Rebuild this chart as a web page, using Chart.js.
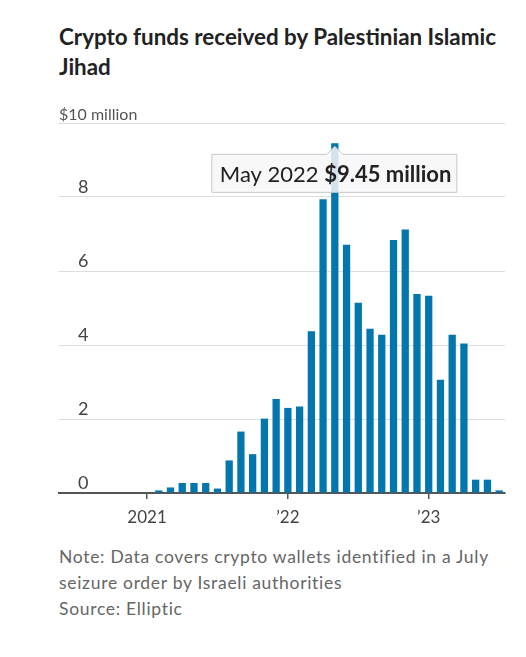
<!DOCTYPE html>
<html>
<head>
<meta charset="utf-8">
<script src="https://cdn.jsdelivr.net/npm/chart.js@4"></script>
<style>
  html, body { margin:0; padding:0; background:#fff; }
  body { width:526px; height:657px; position:relative; overflow:hidden; font-family: Lato, "Noto Sans", sans-serif; }
  #title { position:absolute; left:59px; top:22px; width:450px; font-weight:700; font-size:22.4px; line-height:30px; color:#222; }
  #wrap { position:absolute; left:0; top:100px; width:526px; height:430px; }
  #notes { position:absolute; left:59px; top:544px; width:445px; font-size:17.5px; letter-spacing:0.7px; line-height:26px; color:#666; }
</style>
</head>
<body>
<div id="title">Crypto funds received by Palestinian Islamic Jihad</div>
<div id="wrap"><canvas id="c"></canvas></div>
<div id="notes">Note: Data covers crypto wallets identified in a July seizure order by Israeli authorities<br>Source: Elliptic</div>
<script>
const months = [
  "Jun 2020","Jul 2020","Aug 2020","Sep 2020","Oct 2020","Nov 2020","Dec 2020",
  "Jan 2021","Feb 2021","Mar 2021","Apr 2021","May 2021","Jun 2021","Jul 2021","Aug 2021","Sep 2021","Oct 2021","Nov 2021","Dec 2021",
  "Jan 2022","Feb 2022","Mar 2022","Apr 2022","May 2022","Jun 2022","Jul 2022","Aug 2022","Sep 2022","Oct 2022","Nov 2022","Dec 2022",
  "Jan 2023","Feb 2023","Mar 2023","Apr 2023","May 2023","Jun 2023","Jul 2023"
];
const fundsMillions = [
  0,0,0,0,0,0,0,
  0,0.07,0.15,0.27,0.27,0.27,0.12,0.88,1.66,1.05,2.01,2.54,
  2.30,2.34,4.37,7.94,9.45,6.71,5.14,4.44,4.28,6.84,7.12,5.38,
  5.33,3.06,4.28,4.04,0.36,0.36,0.07
];
const tickMonths = ["Jan 2021","Jan 2022","Jan 2023"];
const tickLabels = ["2021","\u201922","\u201923"];
const yTicks = [0,2,4,6,8,10];
const highlightMonth = "May 2022";
const highlightText = ["May 2022 ", "$9.45 million"];

const overlayPlugin = {
  id: 'overlay',
  afterDraw(chart) {
    const ctx = chart.ctx;
    const xs = chart.scales.x, ys = chart.scales.y;
    ctx.save();
    ctx.font = '16px Lato, "Noto Sans", sans-serif';
    ctx.fillStyle = '#555';
    ctx.textBaseline = 'alphabetic';
    ctx.textAlign = 'left';
    ctx.fillText('$' + yTicks[yTicks.length-1] + ' million', chart.chartArea.left, ys.getPixelForValue(yTicks[yTicks.length-1]) - 3);
    ctx.restore();

    const idx = months.indexOf(highlightMonth);
    const bx = xs.getPixelForValue(idx);
    const by = ys.getPixelForValue(fundsMillions[idx]);
    const apexY = by + 3;
    const boxTop = apexY + 8;
    const boxH = 38, boxL = bx - 123, boxW = 245;
    ctx.save();
    ctx.beginPath();
    ctx.moveTo(boxL, boxTop);
    ctx.lineTo(bx - 8, boxTop);
    ctx.lineTo(bx, apexY);
    ctx.lineTo(bx + 8, boxTop);
    ctx.lineTo(boxL + boxW, boxTop);
    ctx.lineTo(boxL + boxW, boxTop + boxH);
    ctx.lineTo(boxL, boxTop + boxH);
    ctx.closePath();
    ctx.fillStyle = 'rgba(247,247,247,0.85)';
    ctx.fill();
    ctx.strokeStyle = '#c8c8c8';
    ctx.lineWidth = 1;
    ctx.stroke();
    ctx.textBaseline = 'alphabetic';
    ctx.textAlign = 'left';
    ctx.fillStyle = '#222';
    ctx.font = '22px Lato, "Noto Sans", sans-serif';
    const tx = boxL + 8, ty = boxTop + 28;
    ctx.fillText(highlightText[0], tx, ty);
    const w0 = ctx.measureText(highlightText[0]).width;
    ctx.font = 'bold 22px Lato, "Noto Sans", sans-serif';
    ctx.fillText(highlightText[1], tx + w0, ty);
    ctx.restore();
  }
};

new Chart(document.getElementById('c'), {
  type: 'bar',
  data: {
    labels: months,
    datasets: [{
      data: fundsMillions,
      backgroundColor: '#0276ad',
      barPercentage: 0.62,
      categoryPercentage: 1.0
    }]
  },
  options: {
    responsive: true,
    maintainAspectRatio: false,
    animation: false,
    events: [],
    layout: { padding: { left: 59, right: 21, top: 23, bottom: 0 } },
    plugins: { legend: { display: false }, tooltip: { enabled: false } },
    scales: {
      x: {
        type: 'category',
        offset: true,
        border: { display: true, color: '#555', width: 2 },
        grid: {
          display: true,
          drawOnChartArea: false,
          drawTicks: true,
          tickLength: 6,
          offset: false,
          lineWidth: 1.5,
          color: (c) => tickMonths.includes(months[c.index]) ? '#555' : 'rgba(0,0,0,0)'
        },
        ticks: {
          autoSkip: false,
          maxRotation: 0,
          padding: 8,
          color: '#444',
          font: { family: 'Lato, "Noto Sans", sans-serif', size: 17 },
          callback: (v, i) => {
            const k = tickMonths.indexOf(months[i]);
            return k >= 0 ? tickLabels[k] : '';
          }
        },
        afterFit: (s) => { s.height = 37; s.paddingLeft = 0; s.paddingRight = 0; }
      },
      y: {
        min: yTicks[0],
        max: yTicks[yTicks.length-1],
        afterBuildTicks: (s) => { s.ticks = yTicks.map(v => ({ value: v })); },
        border: { display: false },
        grid: { color: '#dedede', lineWidth: 1, drawTicks: false },
        ticks: {
          mirror: true,
          padding: 19,
          labelOffset: -10,
          color: '#444',
          font: { family: 'Lato, "Noto Sans", sans-serif', size: 18 },
          callback: (v) => v === yTicks[yTicks.length-1] ? '' : String(v)
        },
        afterFit: (s) => { s.width = 0; s.paddingTop = 0; s.paddingBottom = 0; }
      }
    }
  },
  plugins: [overlayPlugin]
});
</script>
</body>
</html>
